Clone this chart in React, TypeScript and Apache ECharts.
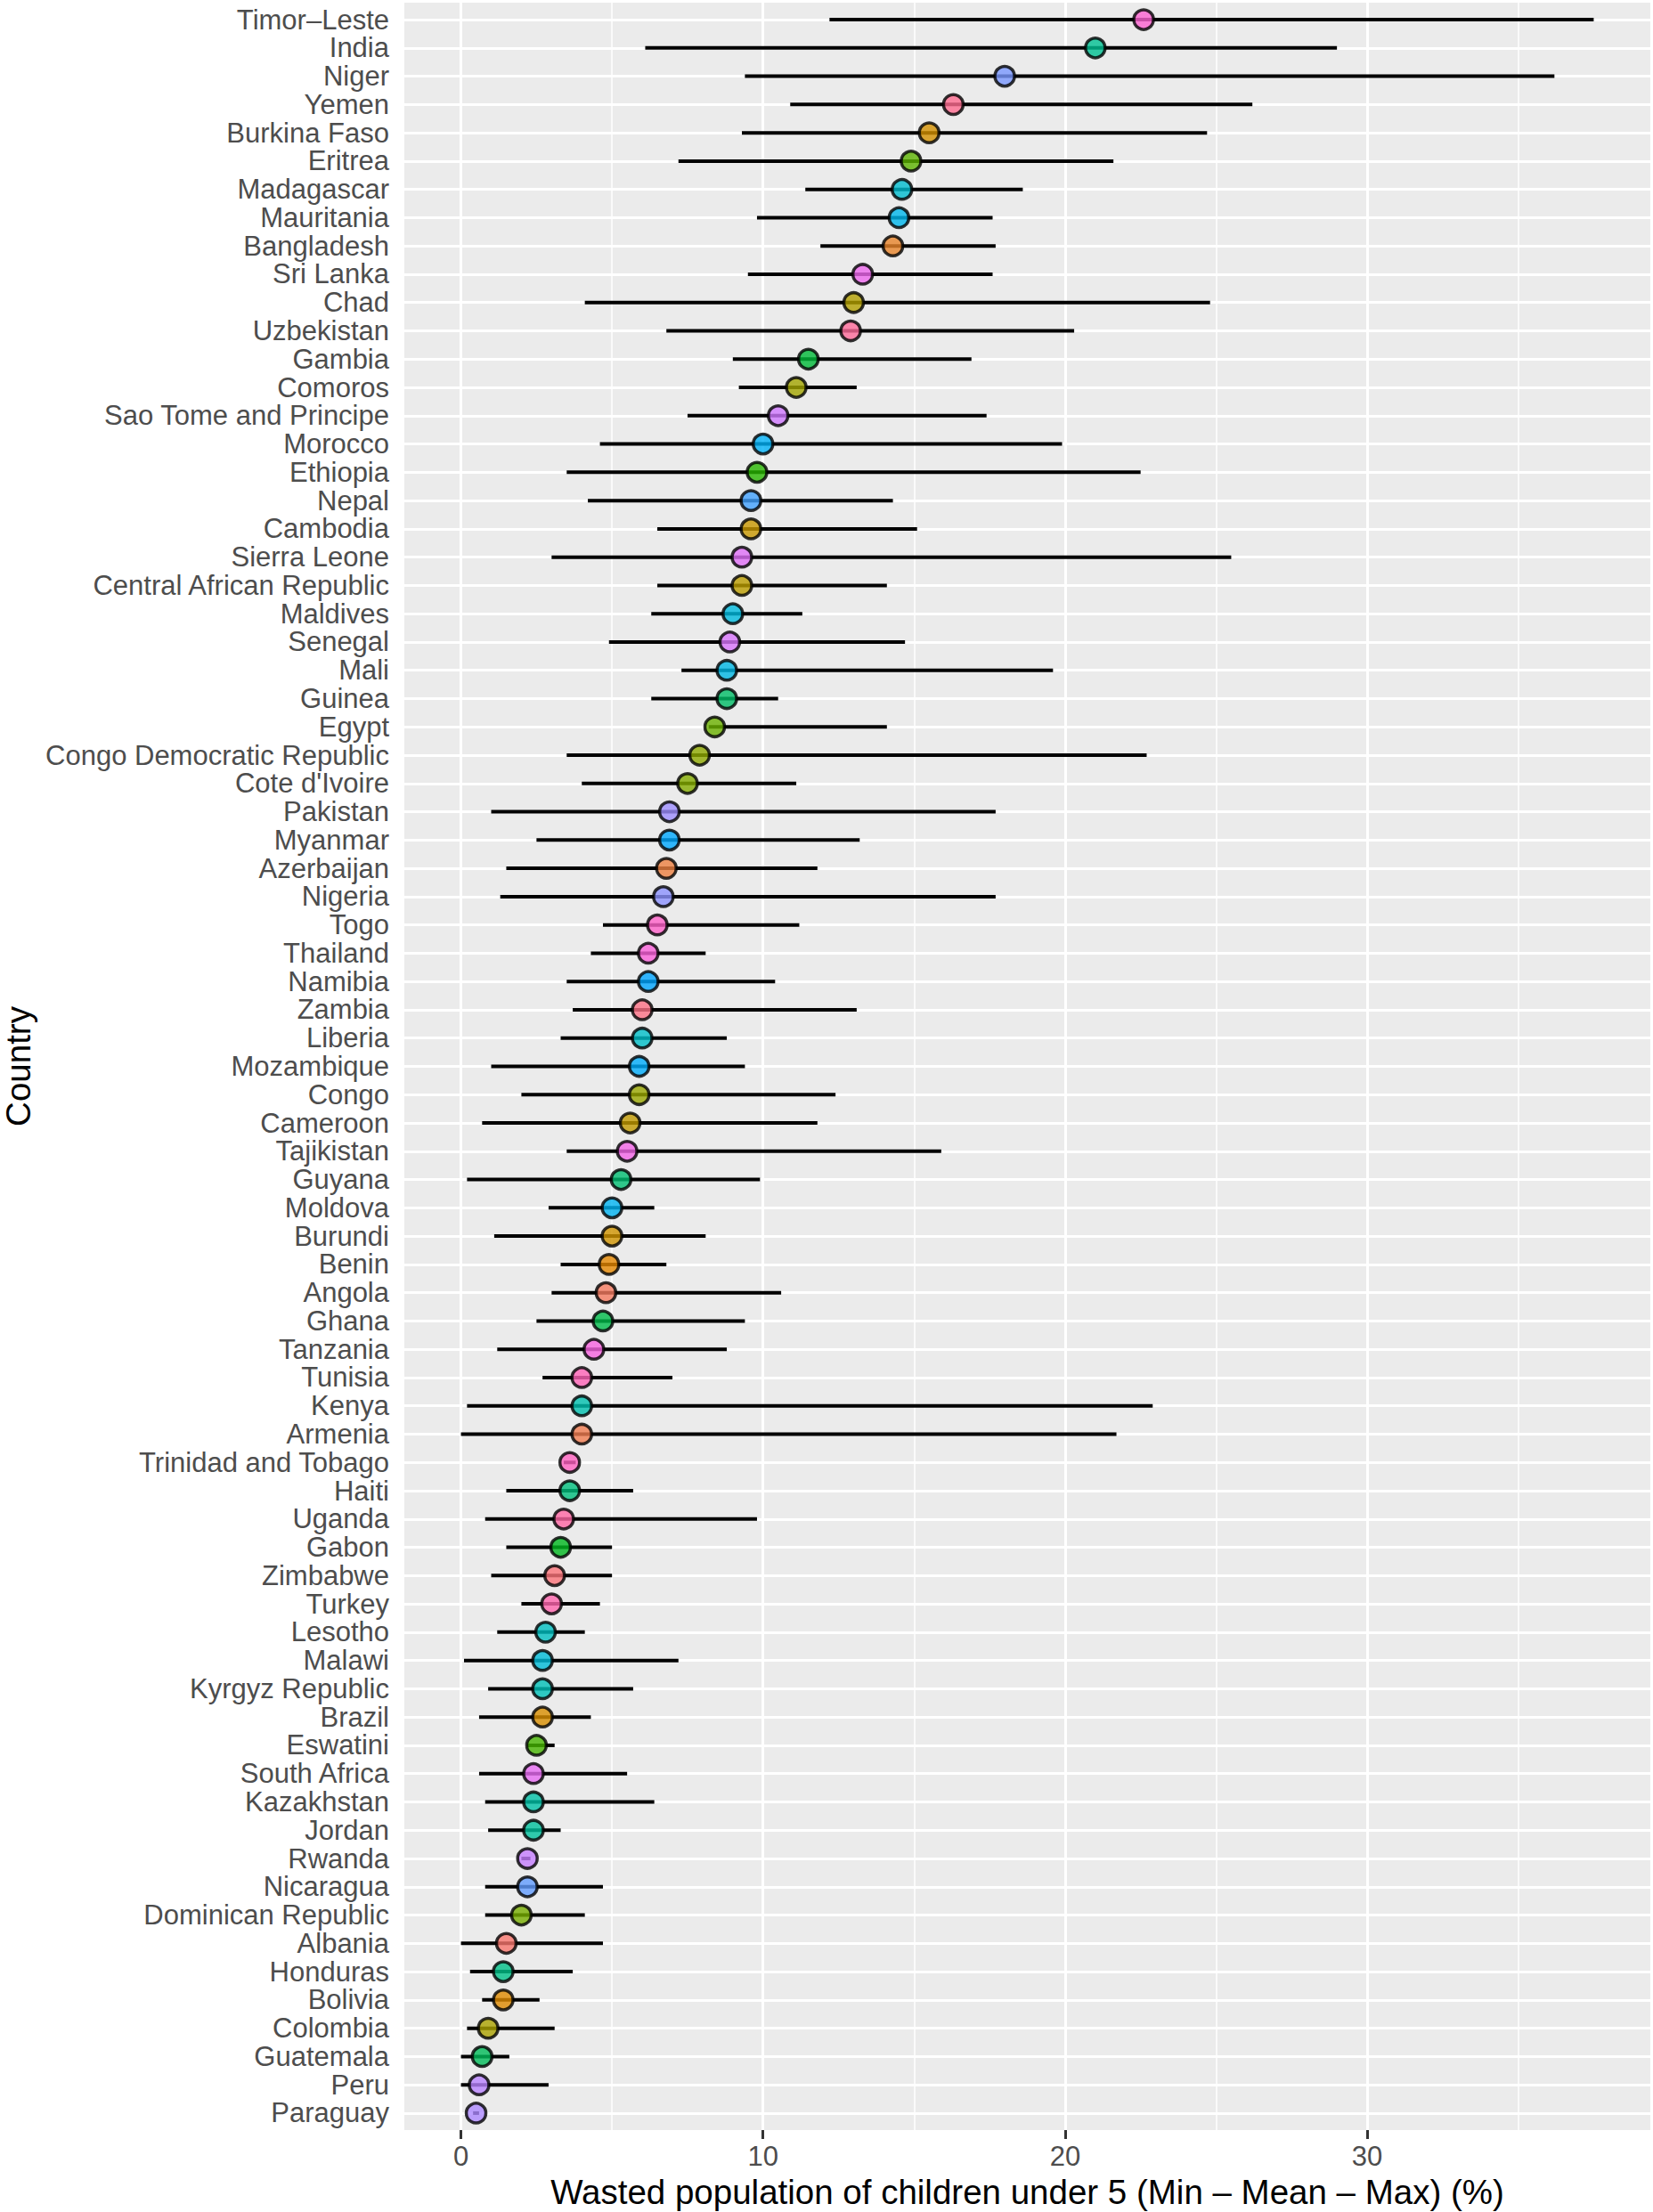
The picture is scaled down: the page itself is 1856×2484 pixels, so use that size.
import React, { useEffect, useRef } from "react";
import * as echarts from "echarts";

const COUNTRIES = [
  "Timor–Leste", "India", "Niger", "Yemen", "Burkina Faso", "Eritrea", "Madagascar", "Mauritania",
  "Bangladesh", "Sri Lanka", "Chad", "Uzbekistan", "Gambia", "Comoros", "Sao Tome and Principe",
  "Morocco", "Ethiopia", "Nepal", "Cambodia", "Sierra Leone", "Central African Republic", "Maldives",
  "Senegal", "Mali", "Guinea", "Egypt", "Congo Democratic Republic", "Cote d'Ivoire", "Pakistan",
  "Myanmar", "Azerbaijan", "Nigeria", "Togo", "Thailand", "Namibia", "Zambia", "Liberia",
  "Mozambique", "Congo", "Cameroon", "Tajikistan", "Guyana", "Moldova", "Burundi", "Benin",
  "Angola", "Ghana", "Tanzania", "Tunisia", "Kenya", "Armenia", "Trinidad and Tobago", "Haiti",
  "Uganda", "Gabon", "Zimbabwe", "Turkey", "Lesotho", "Malawi", "Kyrgyz Republic", "Brazil",
  "Eswatini", "South Africa", "Kazakhstan", "Jordan", "Rwanda", "Nicaragua", "Dominican Republic",
  "Albania", "Honduras", "Bolivia", "Colombia", "Guatemala", "Peru", "Paraguay",
];

const MEAN = [
  22.6, 21.0, 18.0, 16.3, 15.5, 14.9, 14.6, 14.5, 14.3, 13.3,
  13.0, 12.9, 11.5, 11.1, 10.5, 10.0, 9.8, 9.6, 9.6, 9.3,
  9.3, 9.0, 8.9, 8.8, 8.8, 8.4, 7.9, 7.5, 6.9, 6.9,
  6.8, 6.7, 6.5, 6.2, 6.2, 6.0, 6.0, 5.9, 5.9, 5.6,
  5.5, 5.3, 5.0, 5.0, 4.9, 4.8, 4.7, 4.4, 4.0, 4.0,
  4.0, 3.6, 3.6, 3.4, 3.3, 3.1, 3.0, 2.8, 2.7, 2.7,
  2.7, 2.5, 2.4, 2.4, 2.4, 2.2, 2.2, 2.0, 1.5, 1.4,
  1.4, 0.9, 0.7, 0.6, 0.5,
];

const MIN = [
  12.2, 6.1, 9.4, 10.9, 9.3, 7.2, 11.4, 9.8, 11.9, 9.5,
  4.1, 6.8, 9.0, 9.2, 7.5, 4.6, 3.5, 4.2, 6.5, 3.0,
  6.5, 6.3, 4.9, 7.3, 6.3, 8.2, 3.5, 4.0, 1.0, 2.5,
  1.5, 1.3, 4.7, 4.3, 3.5, 3.7, 3.3, 1.0, 2.0, 0.7,
  3.5, 0.2, 2.9, 1.1, 3.3, 3.0, 2.5, 1.2, 2.7, 0.2,
  0.0, 3.4, 1.5, 0.8, 1.5, 1.0, 2.0, 1.2, 0.1, 0.9,
  0.6, 2.2, 0.6, 0.8, 0.9, 2.0, 0.8, 0.8, 0.0, 0.3,
  0.7, 0.2, 0.0, 0.0, 0.4,
];

const MAX = [
  37.5, 29.0, 36.2, 26.2, 24.7, 21.6, 18.6, 17.6, 17.7, 17.6,
  24.8, 20.3, 16.9, 13.1, 17.4, 19.9, 22.5, 14.3, 15.1, 25.5,
  14.1, 11.3, 14.7, 19.6, 10.5, 14.1, 22.7, 11.1, 17.7, 13.2,
  11.8, 17.7, 11.2, 8.1, 10.4, 13.1, 8.8, 9.4, 12.4, 11.8,
  15.9, 9.9, 6.4, 8.1, 6.8, 10.6, 9.4, 8.8, 7.0, 22.9,
  21.7, 3.8, 5.7, 9.8, 5.0, 5.0, 4.6, 4.1, 7.2, 5.7,
  4.3, 3.1, 5.5, 6.4, 3.3, 2.3, 4.7, 4.1, 4.7, 3.7,
  2.6, 3.1, 1.6, 2.9, 0.6,
];

const X_TICKS = [0, 10, 20, 30];
const X_MINOR = [5, 15, 25, 35];

const X_TITLE = "Wasted population of children under 5 (Min – Mean – Max) (%)";
const Y_TITLE = "Country";

const FONT = "'Liberation Sans', Arial, Helvetica, sans-serif";

function hcl(h: number, c = 100, l = 65): string {
  const hr = (h * Math.PI) / 180;
  const U = c * Math.cos(hr);
  const V = c * Math.sin(hr);
  const Y = l > 8 ? Math.pow((l + 16) / 116, 3) : l / 903.2963;
  const un = 0.19783982;
  const vn = 0.4683363;
  const u = U / (13 * l) + un;
  const v = V / (13 * l) + vn;
  const X = (9 * Y * u) / (4 * v);
  const Z = (Y * (12 - 3 * u - 20 * v)) / (4 * v);
  const lin = [
    3.240479 * X - 1.53715 * Y - 0.498535 * Z,
    -0.969256 * X + 1.875992 * Y + 0.041556 * Z,
    0.055648 * X - 0.204043 * Y + 1.057311 * Z,
  ];
  return (
    "#" +
    lin
      .map((x) => {
        const g = x <= 0.0031308 ? 12.92 * x : 1.055 * Math.pow(x, 1 / 2.4) - 0.055;
        const k = Math.round(Math.max(0, Math.min(1, g)) * 255);
        return k.toString(16).padStart(2, "0");
      })
      .join("")
  );
}

export default function App() {
  const ref = useRef<HTMLDivElement>(null);

  useEffect(() => {
    document.body.style.margin = "0";
    if (!ref.current) return;
    const chart = echarts.init(ref.current, null, { renderer: "svg" });
    const N = COUNTRIES.length;

    const sorted = [...COUNTRIES].sort();
    const colorOf = (name: string) => {
      const idx = sorted.indexOf(name);
      return hcl(15 + (360 * idx) / N);
    };

    const lo = Math.min(...MIN);
    const hi = Math.max(...MAX);
    const pad = 0.05 * (hi - lo);

    const yValues = COUNTRIES.map((_, i) => N - i);

    const markData: any[] = [];
    X_MINOR.forEach((v) => markData.push({ xAxis: v, lineStyle: { color: "#FFFFFF", width: 1.5, type: "solid" } }));
    X_TICKS.forEach((v) => markData.push({ xAxis: v, lineStyle: { color: "#FFFFFF", width: 3, type: "solid" } }));
    yValues.forEach((v) => markData.push({ yAxis: v, lineStyle: { color: "#FFFFFF", width: 3, type: "solid" } }));

    const option: any = {
      animation: false,
      grid: {
        left: 454,
        right: 3,
        top: 3,
        bottom: 92,
        show: true,
        backgroundColor: "#EBEBEB",
        borderWidth: 0,
        containLabel: false,
        outerBoundsMode: "none",
      },
      xAxis: {
        type: "value",
        min: lo - pad,
        max: hi + pad,
        splitLine: { show: false },
        axisLine: { show: false },
        axisTick: {
          show: true,
          length: 10,
          customValues: X_TICKS,
          lineStyle: { color: "#333333", width: 3 },
        },
        axisLabel: {
          customValues: X_TICKS,
          color: "#4D4D4D",
          fontSize: 31,
          fontFamily: FONT,
          margin: 14,
        },
        name: X_TITLE,
        nameLocation: "middle",
        nameGap: 50,
        nameTextStyle: { fontSize: 38.5, color: "#000000", fontFamily: FONT },
      },
      yAxis: {
        type: "value",
        min: 0.4,
        max: N + 0.6,
        splitLine: { show: false },
        axisLine: { show: false },
        axisTick: {
          show: true,
          length: 10,
          customValues: yValues,
          lineStyle: { color: "#333333", width: 3 },
        },
        axisLabel: {
          customValues: yValues,
          formatter: (v: number) => COUNTRIES[N - Math.round(v)] ?? "",
          color: "#4D4D4D",
          fontSize: 31,
          fontFamily: FONT,
          margin: 17,
        },
        name: Y_TITLE,
        nameLocation: "middle",
        nameRotate: 90,
        nameGap: 412,
        nameTextStyle: { fontSize: 38.5, color: "#000000", fontFamily: FONT },
      },
      series: [
        {
          type: "line",
          data: [],
          z: 1,
          silent: true,
          markLine: {
            silent: true,
            z: 1,
            symbol: ["none", "none"],
            label: { show: false },
            emphasis: { disabled: true },
            data: markData,
          },
        },
        {
          type: "custom",
          z: 3,
          silent: true,
          encode: { x: [0, 1], y: 2 },
          data: MIN.map((mn, i) => [mn, MAX[i], N - i]),
          renderItem: (params: any, api: any) => {
            const y = api.value(2);
            const p1 = api.coord([api.value(0), y]);
            const p2 = api.coord([api.value(1), y]);
            return {
              type: "line",
              shape: { x1: p1[0], y1: p1[1], x2: p2[0], y2: p2[1] },
              style: { stroke: "#000000", lineWidth: 4 },
            };
          },
        },
        {
          type: "scatter",
          z: 4,
          symbol: "circle",
          symbolSize: 22,
          data: MEAN.map((m, i) => ({
            value: [m, N - i],
            name: COUNTRIES[i],
            itemStyle: { color: colorOf(COUNTRIES[i]), borderColor: "#000000", borderWidth: 3.5 },
          })),
        },
      ],
    };

    chart.setOption(option);
    return () => {
      chart.dispose();
    };
  }, []);

  return <div ref={ref} style={{ width: 1856, height: 2484 }} />;
}
